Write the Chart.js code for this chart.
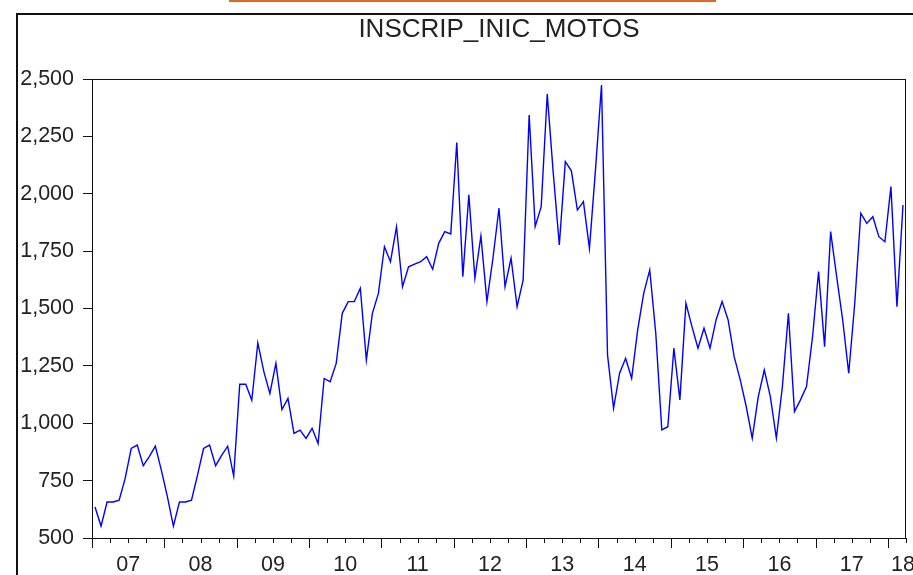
<!DOCTYPE html>
<html>
<head>
<meta charset="utf-8">
<title>INSCRIP_INIC_MOTOS</title>
<script src="https://cdn.jsdelivr.net/npm/chart.js@4.4.1/dist/chart.umd.min.js"></script>
<style>
    html, body { margin: 0; padding: 0; background: #fff; overflow: hidden; }
    #wrap { position: relative; width: 913px; height: 575px; }
</style>
</head>
<body>
<div id="wrap"><canvas id="motosChart"></canvas></div>
<script>
// Monthly series, Jan 2007 .. Mar 2018
const firstYear = 2007;
const yearLabels = ['07', '08', '09', '10', '11', '12', '13', '14', '15', '16', '17', '18'];
const yTicks = [500, 750, 1000, 1250, 1500, 1750, 2000, 2250, 2500];
const values = [
    635, 552, 657, 657, 665, 760, 890, 905, 815, 855, 900, 796,
    680, 552, 657, 657, 665, 774, 890, 905, 815, 860, 900, 770,
    1170, 1170, 1100, 1350, 1225, 1130, 1261, 1060, 1108, 956, 970, 934,
    978, 912, 1195, 1181, 1261, 1479, 1530, 1530, 1588, 1275, 1479, 1566,
    1769, 1704, 1856, 1595, 1682, 1693, 1704, 1726, 1671, 1784, 1835, 1825,
    2223, 1639, 1995, 1632, 1816, 1530, 1720, 1937, 1595, 1719, 1508, 1624,
    2343, 1857, 1944, 2435, 2090, 1777, 2140, 2100, 1929, 1966, 1762, 2104,
    2474, 1298, 1065, 1218, 1283, 1196, 1407, 1566, 1668, 1392, 971, 985,
    1327, 1102, 1523, 1421, 1327, 1414, 1327, 1450, 1530, 1450, 1290, 1190,
    1073, 935, 1116, 1232, 1116, 935, 1160, 1479, 1051, 1102, 1160, 1377,
    1661, 1334, 1835, 1639, 1450, 1218, 1523, 1915, 1871, 1900, 1813, 1791,
    2031, 1508, 1951
];

const nMonths = values.length;
// each month sits in the middle of its period
const points = values.map((v, i) => ({ x: i + 0.5, y: v }));

// label positions: middle of each year, last (partial) year centred in what is shown
const labelPos = yearLabels.map((lab, k) => {
    const mid = k * 12 + 6;
    return mid < nMonths ? mid : nMonths - 0.5;
});

const textFont = "'Liberation Sans', Arial, sans-serif";

// Frame, orange strip and quarter/year tick marks
const framePlugin = {
    id: 'frame',
    beforeDraw(chart) {
        const ctx = chart.ctx;
        ctx.save();
        ctx.fillStyle = '#ffffff';
        ctx.fillRect(0, 0, chart.width, chart.height);
        ctx.fillStyle = '#e2661f';
        ctx.fillRect(229, 0, 487, 2);
        ctx.strokeStyle = '#111';
        ctx.lineWidth = 2;
        ctx.beginPath();
        ctx.moveTo(17, chart.height);
        ctx.lineTo(17, 14);
        ctx.lineTo(chart.width, 14);
        ctx.stroke();
        ctx.restore();
    },
    afterDraw(chart) {
        const ctx = chart.ctx;
        const a = chart.chartArea;
        const xs = chart.scales.x;
        ctx.save();
        ctx.strokeStyle = '#111';
        ctx.lineWidth = 1;
        ctx.strokeRect(a.left + 0.5, a.top + 0.5, a.right - a.left - 1, a.bottom - a.top);
        ctx.beginPath();
        for (let m = 0; m <= nMonths; m += 3) {
            const px = Math.round(xs.getPixelForValue(m)) + 0.5;
            const len = m % 12 === 0 ? 10 : 5;
            ctx.moveTo(px, a.bottom);
            ctx.lineTo(px, a.bottom + len);
        }
        ctx.stroke();
        ctx.restore();
    }
};

new Chart(document.getElementById('motosChart'), {
    type: 'line',
    data: {
        datasets: [{
            label: 'INSCRIP_INIC_MOTOS',
            data: points,
            borderColor: '#0000ff',
            borderWidth: 1.4,
            pointRadius: 0,
            tension: 0,
            fill: false
        }]
    },
    options: {
        responsive: true,
        maintainAspectRatio: false,
        animation: false,
        layout: { padding: { left: 0, right: 7, top: 0, bottom: 0 } },
        scales: {
            x: {
                type: 'linear',
                min: 0,
                max: nMonths,
                afterBuildTicks: (scale) => {
                    scale.ticks = labelPos.map(v => ({ value: v }));
                },
                afterFit: (scale) => {
                    scale.height = 37;
                    scale.paddingLeft = 0;
                    scale.paddingRight = 0;
                },
                grid: { display: false, drawTicks: false },
                border: { display: false },
                ticks: {
                    autoSkip: false,
                    maxRotation: 0,
                    padding: 14,
                    color: '#222',
                    font: { family: textFont, size: 21.5 },
                    callback: (v, idx) => yearLabels[idx]
                }
            },
            y: {
                min: 500,
                max: 2500,
                afterBuildTicks: (scale) => {
                    scale.ticks = yTicks.map(v => ({ value: v }));
                },
                afterFit: (scale) => {
                    scale.width = 92;
                    scale.paddingTop = 0;
                    scale.paddingBottom = 0;
                },
                grid: {
                    drawOnChartArea: false,
                    drawTicks: true,
                    tickLength: 9,
                    color: '#111'
                },
                border: { display: false },
                ticks: {
                    padding: 9,
                    color: '#222',
                    font: { family: textFont, size: 21.5 },
                    callback: (v) => v.toLocaleString('en-US')
                }
            }
        },
        plugins: {
            legend: { display: false },
            tooltip: { enabled: false },
            title: {
                display: true,
                text: 'INSCRIP_INIC_MOTOS',
                fullSize: false,
                color: '#222',
                font: { family: textFont, size: 26, weight: 'normal' },
                padding: { top: 14, bottom: 33.8 }
            }
        }
    },
    plugins: [framePlugin]
});
</script>
</body>
</html>
